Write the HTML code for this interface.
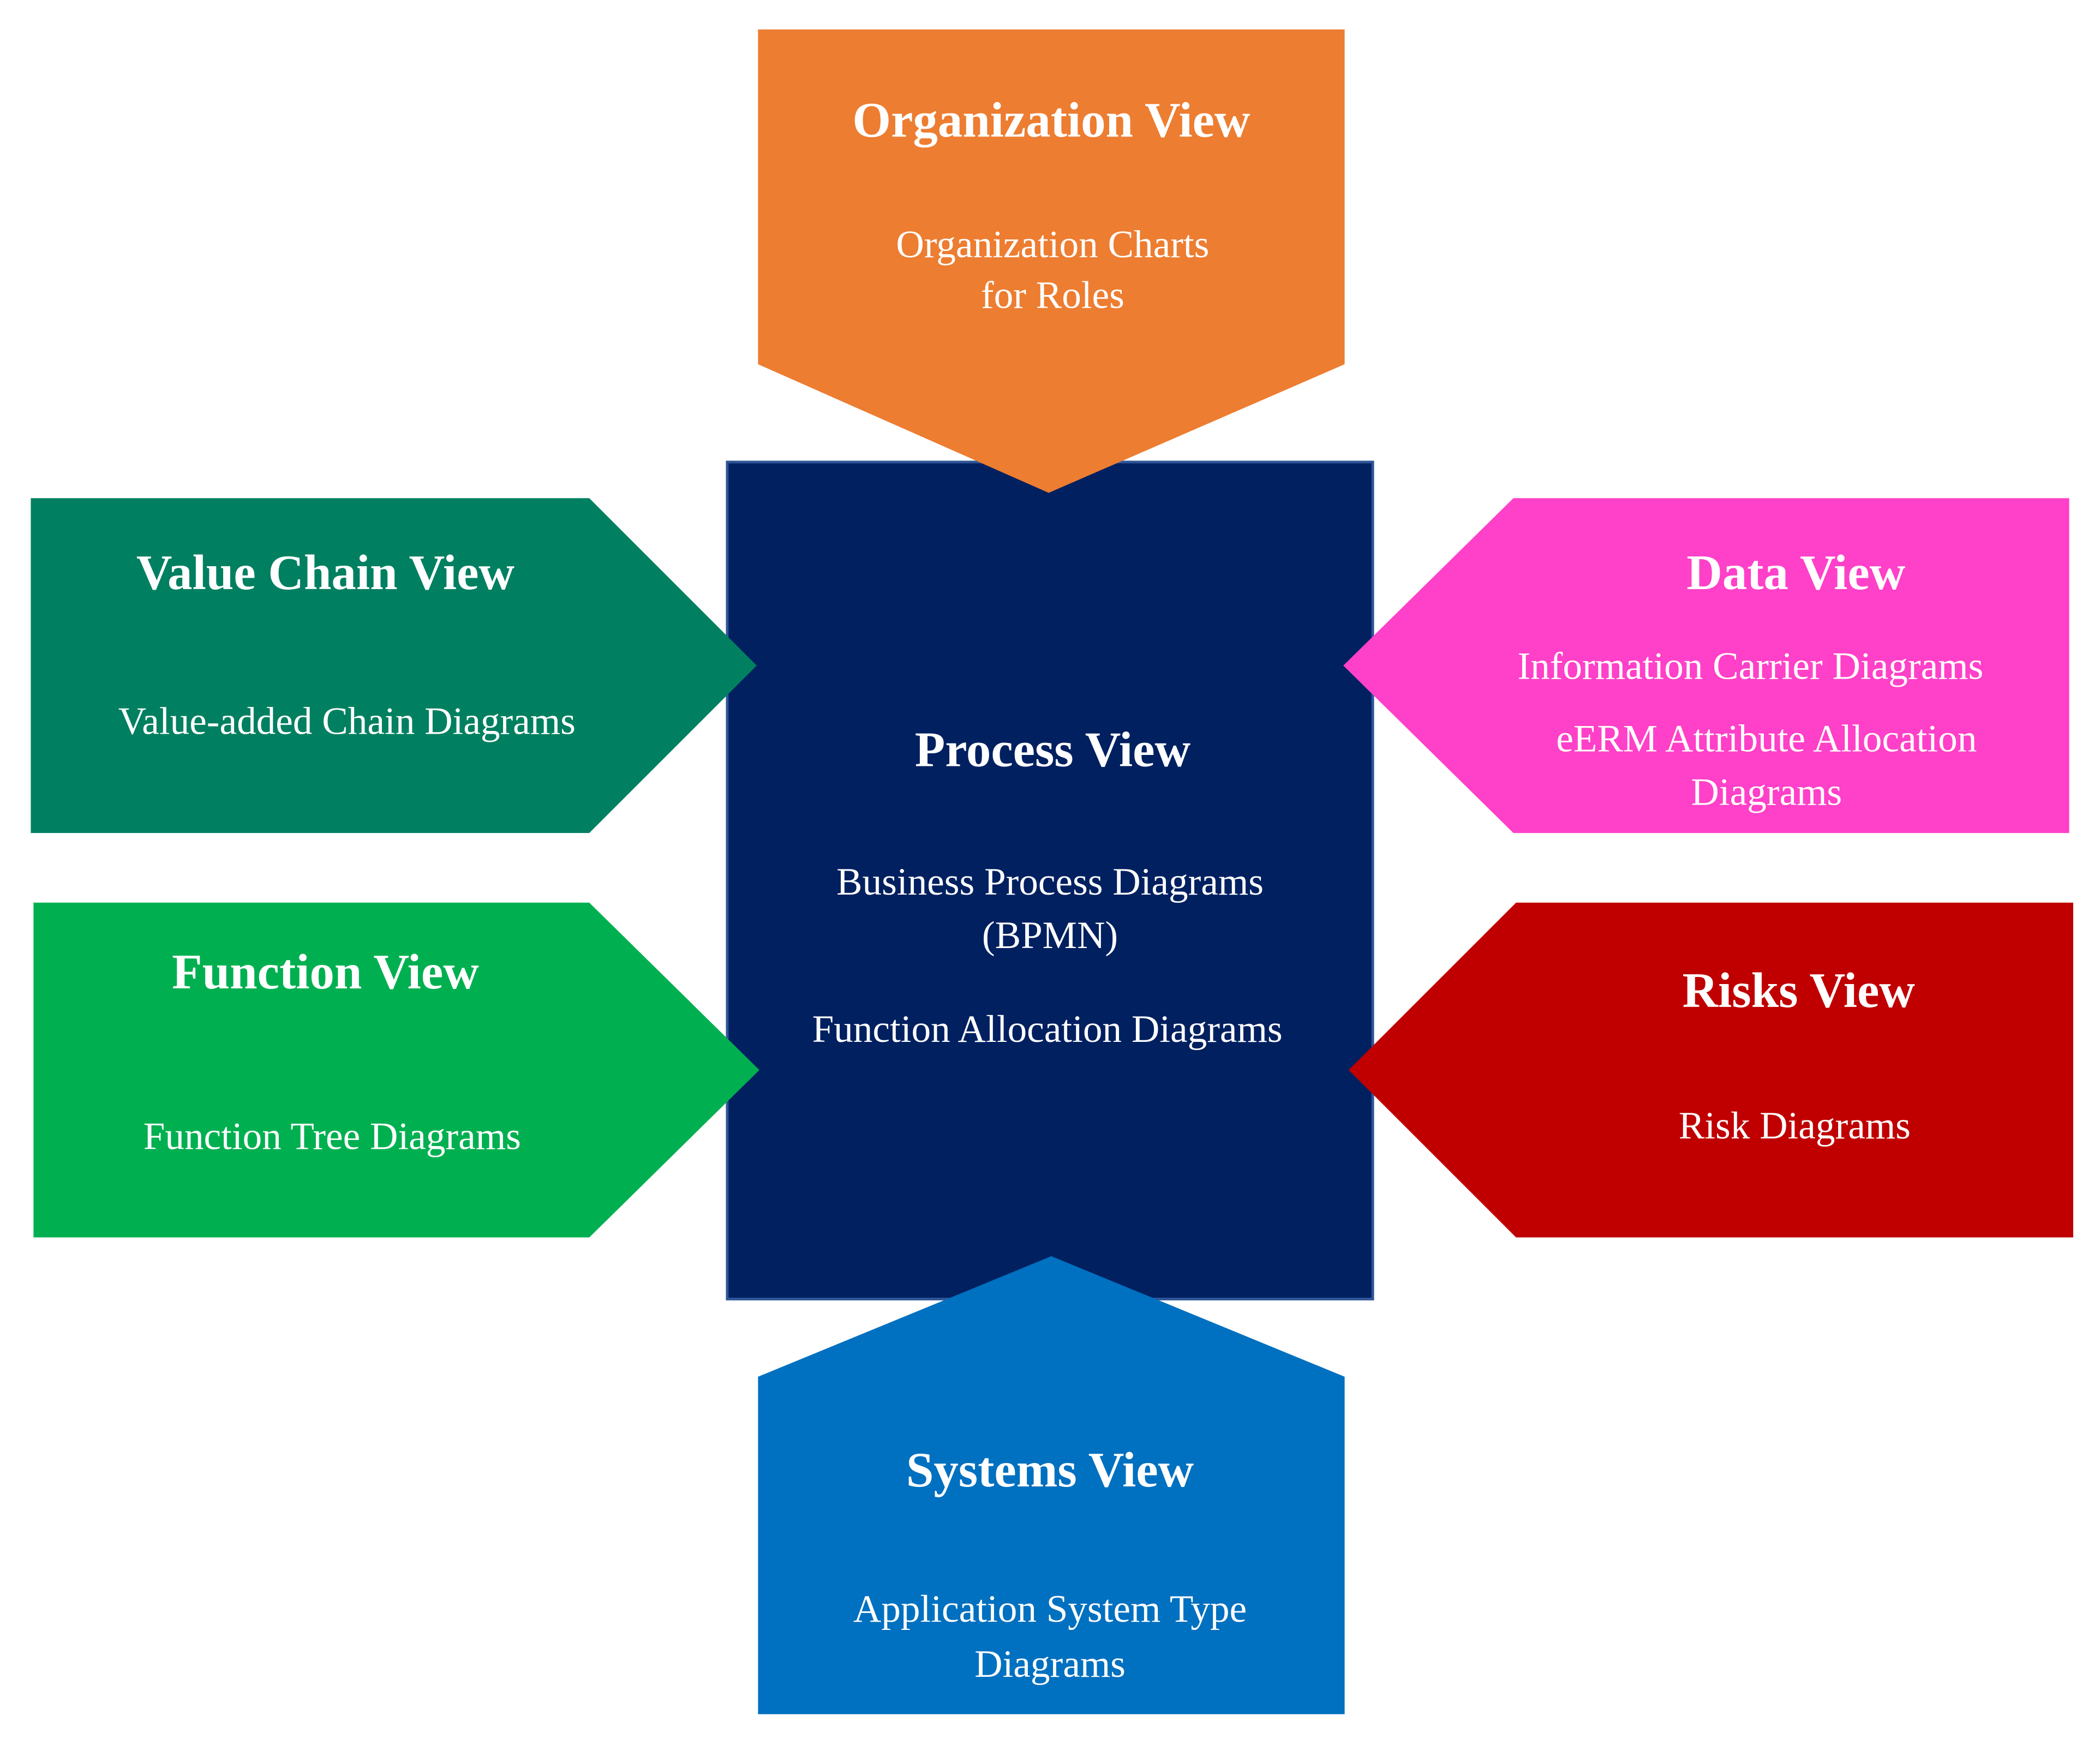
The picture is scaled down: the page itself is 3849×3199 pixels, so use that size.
<!DOCTYPE html>
<html><head><meta charset="utf-8"><style>html,body{margin:0;padding:0;background:#fff}svg{display:block}</style></head>
<body>
<svg width="3849" height="3199" viewBox="0 0 1568 1303" preserveAspectRatio="none" xmlns="http://www.w3.org/2000/svg" font-family="'Liberation Serif', serif" fill="#fff">
<rect x="543" y="345" width="482" height="625" fill="#002060" stroke="#2F5597" stroke-width="2"/>
<polygon points="566,22 1004,22 1004,272 783,368 566,272" fill="#ED7D31"/>
<polygon points="23,372 440,372 565,497 440,622 23,622" fill="#008060"/>
<polygon points="25,674 440,674 567,799 440,924 25,924" fill="#00B050"/>
<polygon points="1130,372 1545,372 1545,622 1130,622 1003,497" fill="#FF40C8"/>
<polygon points="1132,674 1548,674 1548,924 1132,924 1007,799" fill="#C00000"/>
<polygon points="566,1028 785,938 1004,1028 1004,1280 566,1280" fill="#0070C0"/>
<g text-anchor="middle">
<text x="785" y="102" font-size="37" font-weight="bold" fill="#fff">Organization View</text>
<text x="786" y="192" font-size="29" fill="#fff">Organization Charts</text>
<text x="786" y="230" font-size="29" fill="#fff">for Roles</text>
<text x="243" y="440" font-size="37" font-weight="bold" fill="#fff">Value Chain View</text>
<text x="259" y="548" font-size="29" fill="#fff">Value-added Chain Diagrams</text>
<text x="243" y="738" font-size="37" font-weight="bold" fill="#fff">Function View</text>
<text x="248" y="858" font-size="29" fill="#fff">Function Tree Diagrams</text>
<text x="786" y="572" font-size="37" font-weight="bold" fill="#fff">Process View</text>
<text x="784" y="668" font-size="29" fill="#fff">Business Process Diagrams</text>
<text x="784" y="708" font-size="29" fill="#fff">(BPMN)</text>
<text x="782" y="778" font-size="29" fill="#fff">Function Allocation Diagrams</text>
<text x="1341" y="440" font-size="37" font-weight="bold" fill="#fff">Data View</text>
<text x="1307" y="507" font-size="29" fill="#fff">Information Carrier Diagrams</text>
<text x="1319" y="561" font-size="29" fill="#fff">eERM Attribute Allocation</text>
<text x="1319" y="601" font-size="29" fill="#fff">Diagrams</text>
<text x="1343" y="752" font-size="37" font-weight="bold" fill="#fff">Risks View</text>
<text x="1340" y="850" font-size="29" fill="#fff">Risk Diagrams</text>
<text x="784" y="1110" font-size="37" font-weight="bold" fill="#fff">Systems View</text>
<text x="784" y="1211" font-size="29" fill="#fff">Application System Type</text>
<text x="784" y="1252" font-size="29" fill="#fff">Diagrams</text>
</g>
</svg>
</body></html>
